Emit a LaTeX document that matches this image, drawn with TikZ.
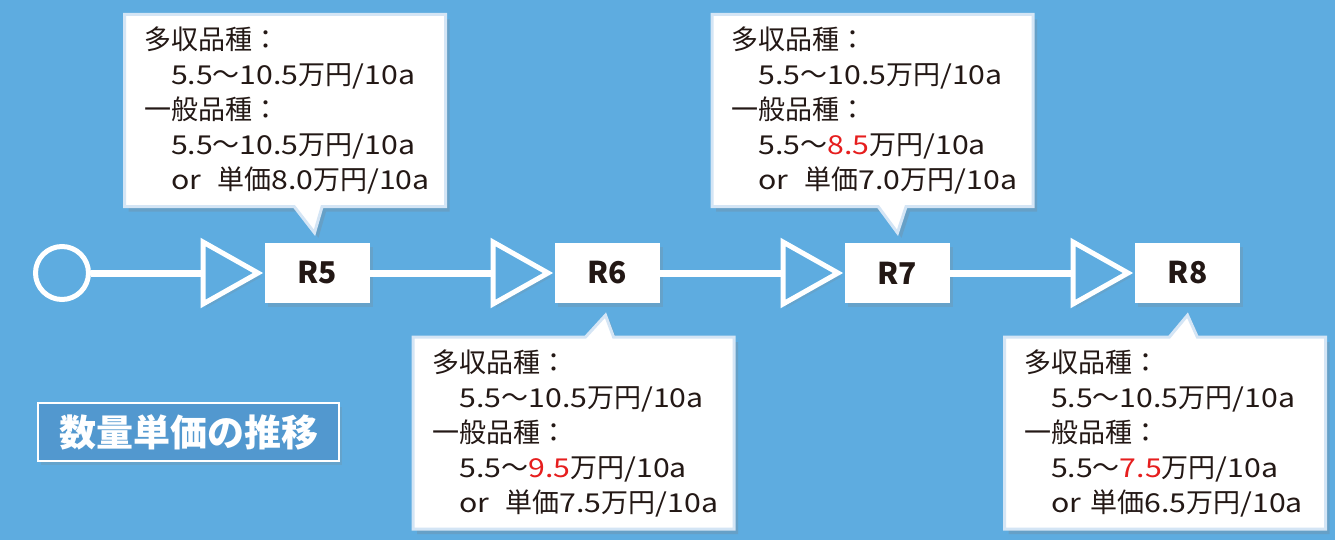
\documentclass[tikz,border=0pt]{standalone}
\usepackage{fontspec}
\setmainfont{Noto Sans CJK JP}
\newfontfamily\latwide[FakeStretch=1.16,Scale=0.965]{Noto Sans CJK JP}
\newcommand\lt[1]{{\latwide #1}}
\newcommand\orgap[1]{\nobreak\hspace{#1}\nobreak}
\usetikzlibrary{shapes.callouts,shadows,calc}
\definecolor{bg}{RGB}{94,172,224}
\definecolor{titlebg}{RGB}{82,152,207}
\definecolor{ink}{RGB}{35,24,21}
\definecolor{hl}{RGB}{230,30,30}
\definecolor{callborder}{RGB}{212,229,245}
\begin{document}
\begin{tikzpicture}[x=1pt,y=-1pt,
  conn/.style={white, line width=7pt},
  rbox/.style={fill=white, minimum width=105pt, minimum height=60pt, inner sep=0pt,
    font=\fontsize{30}{30}\selectfont\bfseries, text=ink,
    drop shadow={opacity=0.22, shadow xshift=3pt, shadow yshift=-4pt}},
  tri/.style={draw=white, line width=5pt, fill=bg, line join=miter,
    drop shadow={opacity=0.18, shadow xshift=3pt, shadow yshift=-4pt}},
  call/.style={rectangle callout, fill=white, draw=callborder, line width=3pt,
    minimum width=321pt, minimum height=192pt, text width=282pt, inner xsep=0pt,
    align=left, callout pointer width=28pt, text=ink,
    font=\fontsize{27}{35}\selectfont,
    drop shadow={opacity=0.25, shadow xshift=4pt, shadow yshift=-5pt}}]
\fill[bg] (0,0) rectangle (1335,540);
\useasboundingbox (0,0) rectangle (1335,540);

% start circle
\node[circle, draw=white, line width=5pt, minimum size=53pt, inner sep=0pt, fill=bg] (c0) at (62,273) {};

% triangle anchor coordinates
\coordinate (t1) at (203,273);
\coordinate (t2) at (493,273);
\coordinate (t3) at (783,273);
\coordinate (t4) at (1073,273);

% boxes
\node[rbox] (R5) at (317.5,273) {R5};
\node[rbox] (R6) at (607.5,273) {R6};
\node[rbox] (R7) at (897.5,273) {R7};
\node[rbox] (R8) at (1187.5,273) {R8};

% connectors
\draw[conn] (c0.east) -- (t1);
\draw[conn] (R5.east) -- (t2);
\draw[conn] (R6.east) -- (t3);
\draw[conn] (R7.east) -- (t4);

% triangles
\foreach \t in {t1,t2,t3,t4}{
  \draw[tri] (\t) ++(0,-31) -- ++(0,62) -- ++(55,-31) -- cycle;
}

% callouts
\node[call, callout absolute pointer={($(R5.north)+(-3,-10)$)}] (C5) at (285,110.5) {%
多収品種：\\
\hspace*{1em}\lt{5.5}～\lt{10.5}万円\lt{/10a}\\
一般品種：\\
\hspace*{1em}\lt{5.5}～\lt{10.5}万円\lt{/10a}\\
\hspace*{1em}\lt{or}\orgap{0.6em}単価\lt{8.0}万円\lt{/10a}};

\node[call, callout absolute pointer={($(R7.north)+(0,-10)$)}] (C7) at (872.5,110.5) {%
多収品種：\\
\hspace*{1em}\lt{5.5}～\lt{10.5}万円\lt{/10a}\\
一般品種：\\
\hspace*{1em}\lt{5.5}～\textcolor{hl}{\lt{8.5}}万円\lt{/10a}\\
\hspace*{1em}\lt{or}\orgap{0.6em}単価\lt{7.0}万円\lt{/10a}};

\node[call, callout absolute pointer={($(R6.south)+(-2,12)$)}] (C6) at (573.5,433) {%
多収品種：\\
\hspace*{1em}\lt{5.5}～\lt{10.5}万円\lt{/10a}\\
一般品種：\\
\hspace*{1em}\lt{5.5}～\textcolor{hl}{\lt{9.5}}万円\lt{/10a}\\
\hspace*{1em}\lt{or}\orgap{0.6em}単価\lt{7.5}万円\lt{/10a}};

\node[call, callout absolute pointer={($(R8.south)+(0,12)$)}] (C8) at (1165,433) {%
多収品種：\\
\hspace*{1em}\lt{5.5}～\lt{10.5}万円\lt{/10a}\\
一般品種：\\
\hspace*{1em}\lt{5.5}～\textcolor{hl}{\lt{7.5}}万円\lt{/10a}\\
\hspace*{1em}\lt{or}\orgap{0.35em}単価\lt{6.5}万円\lt{/10a}};

% title
\node[draw=white, line width=2.5pt, fill=titlebg, minimum width=301pt, minimum height=58pt,
  inner sep=0pt, text=white, font=\fontsize{37}{37}\selectfont\bfseries,
  drop shadow={opacity=0.2, shadow xshift=3pt, shadow yshift=-4pt}] (title) at (188.5,432) {数量単価の推移};
\end{tikzpicture}
\end{document}
